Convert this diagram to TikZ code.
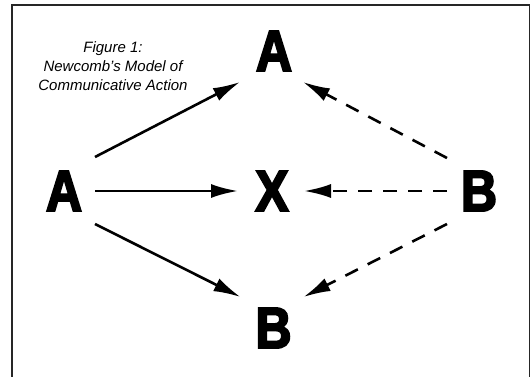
\documentclass[tikz,border=0pt]{standalone}
\usepackage{fontspec}
\setmainfont{Liberation Sans}
\newfontfamily\heavy[FakeBold=3.5,FakeStretch=0.86]{Liberation Sans Bold}
\usetikzlibrary{arrows.meta}
\tikzset{
  letter/.style={inner sep=0pt, font=\heavy\fontsize{58}{58}\selectfont},
  arr/.style={line width=2.6pt, -{Latex[length=27pt,width=14pt]}},
  dsh/.style={arr, dash pattern=on 14pt off 11pt},
  frame/.style={line width=1.8pt, draw=black!85},
  caption/.style={align=center, inner sep=0pt, font=\itshape\fontsize{15}{19}\selectfont}
}
\begin{document}
\begin{tikzpicture}[x=1pt, y=-1pt]
\useasboundingbox (0,0) rectangle (531,377);
\clip (0,0) rectangle (531,377);
\fill[white] (0,0) rectangle (531,377);
\draw[frame] (12,385) -- (12,5.2) -- (529.5,5.2) -- (529.5,385);

\node[letter] (lA) at (64,191) {A};
\node[letter] (tA) at (274,51) {A};
\node[letter] (X)  at (272,191) {X};
\node[letter] (bB) at (273.5,328) {B};
\node[letter] (rB) at (479,191) {B};

\node[caption] (cap) at (113,66.5) {Figure 1:\\Newcomb's Model of\\Communicative Action};

\draw[arr] ([shift={(31,-34)}]lA.center) -- ([shift={(-34,31)}]tA.center);
\draw[arr] ([shift={(31,0)}]lA.center) -- ([shift={(-34,0)}]X.center);
\draw[arr] ([shift={(31,33)}]lA.center) -- ([shift={(-33,-31)}]bB.center);

\draw[dsh] ([shift={(-32,-33)}]rB.center) -- ([shift={(29,31)}]tA.center);
\draw[dsh] ([shift={(-32,0)}]rB.center) -- ([shift={(32,0)}]X.center);
\draw[dsh] ([shift={(-32,33)}]rB.center) -- ([shift={(30,-31)}]bB.center);
\end{tikzpicture}
\end{document}
